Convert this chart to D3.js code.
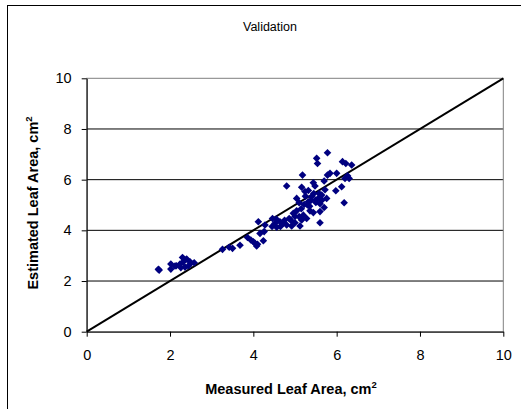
<!DOCTYPE html>
<html>
<head>
<meta charset="utf-8">
<script src="https://cdn.jsdelivr.net/npm/d3@7"></script>
<style>
  html, body { margin: 0; padding: 0; background: #fff; }
  svg { display: block; font-family: Arial, "Liberation Sans", sans-serif; }
</style>
</head>
<body>
<svg id="chart" width="521" height="409"></svg>
<script>
// Measured vs. estimated leaf area (cm²) for the validation set
const measured = [
  1.72, 1.74, 2.02, 2.02, 2.12, 2.24, 2.30, 2.32, 2.40, 2.26, 2.48, 2.58, 2.44, 2.36, 2.15, 2.35, 2.50,
  3.26, 3.42, 3.50, 3.68, 3.86, 3.94, 4.04, 4.08, 4.24, 4.16, 4.26, 4.12, 4.28, 4.00, 4.10,
  4.46, 4.52, 4.56, 4.45, 4.64, 4.72, 4.80, 4.92, 4.86, 4.96, 5.04, 5.10, 5.16, 5.12, 5.28, 5.36, 5.60,
  4.80, 5.04, 5.10, 5.16, 5.18, 5.24, 5.32, 5.32, 5.40, 5.44, 5.48, 5.52, 5.54, 5.56, 5.60, 5.64,
  5.44, 5.60, 5.72, 5.70, 5.78, 5.78, 5.84, 5.76, 5.70, 6.00, 5.98, 6.12, 6.18, 6.14, 6.22, 6.20,
  6.30, 6.36, 6.26, 5.00, 4.90, 5.20, 5.00, 5.30, 5.50, 5.45, 5.25, 5.50, 5.35, 5.15, 5.65, 4.65,
  4.75, 4.55, 5.38, 5.22, 5.58
];
const estimated = [
  2.46, 2.43, 2.67, 2.47, 2.59, 2.67, 2.93, 2.76, 2.87, 2.53, 2.76, 2.72, 2.59, 2.55, 2.60, 2.85, 2.70,
  3.25, 3.33, 3.29, 3.41, 3.72, 3.62, 3.49, 3.38, 3.59, 3.88, 3.95, 4.34, 4.21, 3.55, 3.45,
  4.47, 4.28, 4.12, 4.15, 4.34, 4.28, 4.21, 4.17, 4.47, 4.67, 4.77, 4.54, 4.41, 4.17, 4.47, 4.77, 4.30,
  5.75, 5.26, 5.09, 5.70, 6.18, 5.53, 5.57, 5.13, 5.33, 5.88, 5.75, 6.84, 6.64, 5.26, 5.05, 5.39,
  4.70, 4.74, 5.60, 5.95, 7.06, 6.18, 6.25, 5.26, 4.90, 6.25, 5.56, 5.72, 5.09, 6.71, 6.64, 6.05,
  6.05, 6.58, 6.15, 4.30, 4.40, 4.60, 4.55, 5.00, 5.10, 5.45, 5.35, 5.20, 4.95, 4.85, 5.20, 4.15,
  4.40, 4.45, 5.18, 5.02, 5.45
];
const xTicks = [0, 2, 4, 6, 8, 10];
const yTicks = [0, 2, 4, 6, 8, 10];
const chartTitle = "Validation";
const xTitle = "Measured Leaf Area, cm";
const yTitle = "Estimated Leaf Area, cm";

const points = measured.map((m, i) => ({ m, e: estimated[i] }));

const svg = d3.select("#chart");

// outer chart frame
svg.append("rect")
  .attr("x", 7.5).attr("y", 5.5)
  .attr("width", 600).attr("height", 500)
  .attr("fill", "#fff").attr("stroke", "#000").attr("stroke-width", 1);

const x = d3.scaleLinear().domain([0, 10]).range([86.7, 503.3]);
const y = d3.scaleLinear().domain([0, 10]).range([331.7, 78.3]);

// horizontal gridlines
svg.append("g")
  .selectAll("line")
  .data(yTicks.filter(t => t > 0 && t < 10))
  .join("line")
  .attr("x1", x(0)).attr("x2", x(10))
  .attr("y1", d => y(d)).attr("y2", d => y(d))
  .attr("stroke", "#000").attr("stroke-width", 1);

// plot area border
svg.append("rect")
  .attr("x", x(0)).attr("y", y(10))
  .attr("width", x(10) - x(0)).attr("height", y(0) - y(10))
  .attr("fill", "none").attr("stroke", "#808080").attr("stroke-width", 1);

// 1:1 line
svg.append("line")
  .attr("x1", x(0)).attr("y1", y(0))
  .attr("x2", x(10)).attr("y2", y(10))
  .attr("stroke", "#000").attr("stroke-width", 2);

// diamond markers
const diamond = {
  draw(ctx, size) {
    const r = Math.sqrt(size / 2);
    ctx.moveTo(0, -r); ctx.lineTo(r, 0); ctx.lineTo(0, r); ctx.lineTo(-r, 0); ctx.closePath();
  }
};
svg.append("g")
  .selectAll("path")
  .data(points)
  .join("path")
  .attr("transform", d => `translate(${x(d.m)},${y(d.e)})`)
  .attr("d", d3.symbol().type(diamond).size(2 * 3.8 * 3.8))
  .attr("fill", "#000080");

// axes
const xAxis = svg.append("g")
  .attr("transform", `translate(0,${y(0)})`)
  .call(d3.axisBottom(x).tickValues(xTicks).tickSize(5).tickPadding(13).tickSizeOuter(0));
const yAxis = svg.append("g")
  .attr("transform", `translate(${x(0)},0)`)
  .call(d3.axisLeft(y).tickValues(yTicks).tickSize(5).tickPadding(10).tickSizeOuter(0));

[xAxis, yAxis].forEach(g => {
  g.selectAll("path.domain").attr("stroke", "#000").attr("stroke-width", 1);
  g.selectAll(".tick line").attr("stroke", "#000");
  g.selectAll(".tick text")
    .attr("font-family", "Arial, 'Liberation Sans', sans-serif")
    .attr("font-size", 14.5).attr("fill", "#000");
});

// chart title
svg.append("text")
  .attr("x", 270).attr("y", 31)
  .attr("text-anchor", "middle")
  .attr("font-size", 12.5)
  .text(chartTitle);

// x axis title
const xt = svg.append("text")
  .attr("x", 291).attr("y", 394)
  .attr("text-anchor", "middle")
  .attr("font-size", 14.5).attr("font-weight", "bold");
xt.append("tspan").text(xTitle);
xt.append("tspan").attr("font-size", 9.5).attr("dy", -6).text("2");

// y axis title
const yt = svg.append("text")
  .attr("transform", "translate(38,203) rotate(-90)")
  .attr("text-anchor", "middle")
  .attr("font-size", 14.5).attr("font-weight", "bold");
yt.append("tspan").text(yTitle);
yt.append("tspan").attr("font-size", 9.5).attr("dy", -6).text("2");
</script>
</body>
</html>
